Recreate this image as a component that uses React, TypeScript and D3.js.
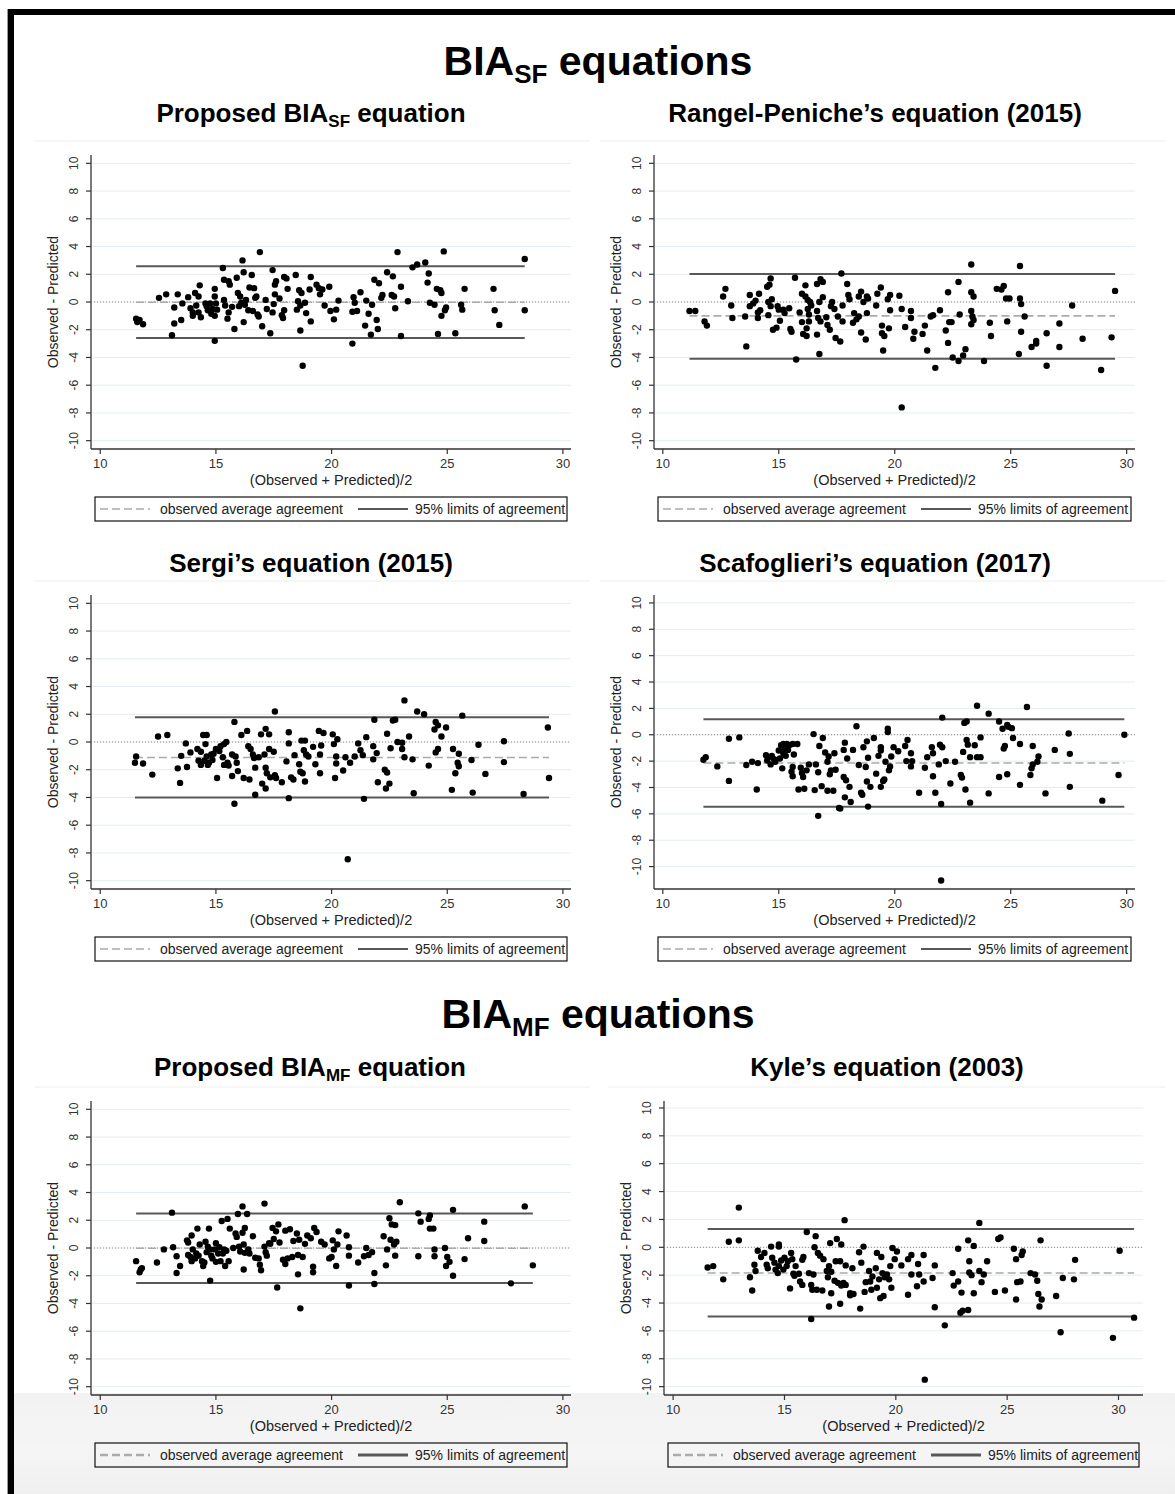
import React from "react";
import * as d3 from "d3";

const FONT = '"Liberation Sans", Arial, Helvetica, sans-serif';

type Pt = [number, number];

// (Observed + Predicted)/2 , Observed - Predicted
const proposedSfPoints: Pt[] = [
  [11.55,-1.2],[11.6,-1.45],[11.7,-1.3],[11.85,-1.6],[12.54,0.3],[12.85,0.55],[13.1,-2.4],[13.2,-0.4],[13.2,-1.55],[13.35,0.55],
  [13.5,-1.3],[13.55,-0.1],[13.8,0.35],[13.9,-0.45],[14.0,-0.75],[14.0,-1.0],[14.1,0.65],[14.15,-0.25],[14.25,0.4],[14.25,-0.75],
  [14.3,1.2],[14.35,-1.1],[14.55,-0.1],[14.6,-0.3],[14.65,-0.6],[14.75,-0.1],[14.8,-0.85],[14.85,-0.5],[14.95,0.95],[14.95,0.4],
  [14.95,-1.0],[14.95,-2.8],[15.0,-0.1],[15.05,-0.55],[15.3,2.45],[15.35,1.6],[15.35,0.15],[15.4,-0.25],[15.5,-1.2],[15.55,-0.75],
  [15.55,1.5],[15.6,1.25],[15.7,-0.35],[15.8,-1.95],[15.9,1.75],[15.95,0.65],[16.0,-0.3],[16.05,0.4],[16.1,-0.05],[16.15,3.0],
  [16.2,2.15],[16.2,-1.45],[16.25,-0.2],[16.3,0.15],[16.4,-0.6],[16.45,1.05],[16.55,1.95],[16.6,-0.65],[16.65,1.0],[16.7,0.3],
  [16.75,0.4],[16.8,-0.9],[16.85,-1.05],[16.9,3.6],[17.0,-1.75],[17.15,0.15],[17.2,-0.5],[17.35,-2.25],[17.45,2.3],[17.45,-0.75],
  [17.5,-0.15],[17.55,0.55],[17.55,1.25],[17.6,1.5],[17.75,0.25],[17.85,-0.95],[17.9,-1.15],[17.95,1.8],[17.95,-0.6],[18.05,1.7],
  [18.1,0.95],[18.45,1.95],[18.5,-0.55],[18.55,0.05],[18.6,0.85],[18.65,-0.25],[18.65,-2.05],[18.7,0.65],[18.75,-4.6],[18.85,-0.05],
  [18.9,-0.8],[19.05,0.9],[19.1,-1.4],[19.1,1.8],[19.35,1.25],[19.45,1.0],[19.5,0.55],[19.6,0.9],[19.7,-0.25],[19.9,1.1],
  [19.95,-0.65],[20.1,-1.25],[20.2,-0.55],[20.3,0.1],[20.9,-3.0],[20.9,-0.7],[20.95,0.35],[21.0,-0.05],[21.1,-0.65],[21.25,0.7],
  [21.45,-1.7],[21.5,0.1],[21.6,-0.85],[21.7,-2.35],[21.75,-0.2],[21.85,1.6],[21.95,-1.3],[22.0,-1.95],[22.05,1.35],[22.15,0.3],
  [22.2,0.5],[22.4,2.15],[22.6,0.5],[22.65,1.85],[22.7,0.4],[22.75,-0.45],[22.85,3.6],[23.0,1.1],[23.0,-2.45],[23.3,0.05],
  [23.5,2.5],[23.7,2.7],[24.05,2.85],[24.15,1.4],[24.2,2.05],[24.25,-0.05],[24.45,-0.2],[24.55,0.95],[24.6,-2.3],[24.7,0.85],
  [24.75,-1.0],[24.75,0.65],[24.85,3.65],[24.9,-0.6],[24.95,-0.4],[25.35,-2.25],[25.6,-0.2],[25.65,-0.55],[25.75,0.95],[27.0,0.95],
  [27.05,-0.6],[27.25,-1.65],[28.35,3.1],[28.35,-0.6],
];

const rangelPoints: Pt[] = [
  [11.15,-0.65],[11.4,-0.65],[11.8,-1.4],[11.9,-1.7],[12.6,0.4],[12.7,0.95],[12.95,-0.25],[13.0,-1.15],[13.55,-1.05],[13.6,-3.2],
  [13.75,0.5],[13.75,-0.3],[13.9,-0.1],[14.0,0.1],[14.1,-1.15],[14.1,-0.75],[14.15,0.6],[14.2,-0.6],[14.5,1.1],[14.55,0.0],
  [14.55,-0.95],[14.6,1.25],[14.65,1.7],[14.65,-0.3],[14.7,0.2],[14.75,-2.0],[14.9,-1.85],[14.95,-0.3],[15.0,-0.55],[15.05,-1.35],
  [15.2,-0.55],[15.25,-0.8],[15.45,-0.45],[15.5,-1.95],[15.55,-2.15],[15.7,1.75],[15.75,-4.15],[15.9,-0.75],[16.0,0.6],[16.0,-1.45],
  [16.05,-2.3],[16.15,0.4],[16.15,1.2],[16.2,-2.45],[16.2,-1.9],[16.25,0.15],[16.25,-0.5],[16.3,-1.4],[16.3,-0.9],[16.35,0.0],
  [16.4,-0.25],[16.65,1.3],[16.65,-0.65],[16.65,-2.35],[16.7,-1.15],[16.75,-3.75],[16.75,0.0],[16.8,1.65],[16.8,-1.4],[16.9,1.45],
  [16.9,0.35],[17.05,-1.1],[17.1,-1.65],[17.2,-2.0],[17.25,-0.3],[17.3,0.0],[17.4,-0.5],[17.45,-2.6],[17.55,-1.05],[17.65,-2.85],
  [17.7,2.05],[17.75,-1.4],[17.75,-0.25],[17.95,1.3],[18.0,0.5],[18.05,0.2],[18.2,-1.5],[18.25,-0.8],[18.35,-1.25],[18.45,0.4],
  [18.45,-1.05],[18.55,0.75],[18.55,-2.2],[18.65,0.0],[18.75,-2.7],[18.8,-0.8],[18.8,0.4],[18.85,0.25],[19.2,-0.25],[19.25,0.6],
  [19.4,1.05],[19.45,-1.7],[19.45,-2.25],[19.5,-3.5],[19.55,-2.45],[19.7,0.2],[19.75,-1.9],[19.8,-0.6],[19.8,0.5],[20.2,0.45],
  [20.3,-7.6],[20.3,-0.5],[20.45,-1.8],[20.7,-0.65],[20.7,-1.15],[20.8,-2.65],[20.85,-2.15],[21.2,-2.3],[21.3,-1.7],[21.4,-3.5],
  [21.55,-1.05],[21.65,-0.95],[21.75,-4.75],[21.95,-0.6],[22.2,-2.05],[22.3,0.7],[22.3,-2.95],[22.35,-1.45],[22.45,-1.45],[22.5,-4.0],
  [22.75,1.45],[22.75,-4.25],[22.8,-0.9],[22.95,-3.85],[23.05,-3.4],[23.3,2.7],[23.3,0.7],[23.3,-0.65],[23.35,-1.05],[23.3,-1.6],
  [23.4,0.4],[23.4,-1.3],[23.85,-4.25],[24.1,-1.5],[24.15,-2.45],[24.4,0.95],[24.6,0.9],[24.7,1.15],[24.8,0.25],[24.85,-1.4],
  [24.95,0.25],[25.35,-3.75],[25.4,2.6],[25.4,0.25],[25.45,-0.15],[25.45,-2.15],[25.6,-1.05],[25.9,-3.25],[26.1,-2.8],[26.1,-3.0],
  [26.55,-2.25],[26.55,-4.6],[27.1,-1.55],[27.1,-3.25],[27.65,-0.25],[28.1,-2.65],[28.9,-4.9],[29.35,-2.55],[29.5,0.8],
];

const sergiPoints: Pt[] = [
  [11.5,-1.5],[11.55,-1.05],[11.85,-1.55],[12.25,-2.35],[12.5,0.4],[12.9,0.5],[13.35,-1.9],[13.45,-2.95],[13.5,-1.0],[13.7,-0.1],
  [13.75,-1.8],[13.9,-0.75],[14.2,-0.5],[14.25,-1.35],[14.35,-1.65],[14.35,-0.7],[14.45,0.5],[14.5,-1.35],[14.55,-0.15],[14.6,-1.05],
  [14.6,0.5],[14.65,-1.65],[14.7,-1.5],[14.8,-0.9],[14.85,-1.3],[14.9,-0.85],[15.0,-0.5],[15.05,-2.6],[15.15,-0.65],[15.2,-0.3],
  [15.3,-1.1],[15.35,-1.65],[15.35,-0.15],[15.45,0.0],[15.5,-1.5],[15.55,-1.7],[15.7,-0.9],[15.7,-2.45],[15.8,1.45],[15.8,-4.45],
  [15.85,-1.05],[15.9,-1.5],[15.95,-2.1],[16.1,0.5],[16.2,-2.6],[16.35,0.8],[16.4,-0.3],[16.45,-2.7],[16.5,-0.5],[16.6,-0.9],
  [16.65,-1.15],[16.7,-3.8],[16.7,-1.85],[16.85,-1.1],[16.95,0.55],[17.0,-3.0],[17.1,-0.9],[17.15,0.95],[17.15,-3.35],[17.15,-1.85],
  [17.2,-2.25],[17.3,0.55],[17.3,-0.5],[17.35,-2.55],[17.5,-0.7],[17.55,2.2],[17.55,-2.4],[17.6,-2.6],[17.85,-2.9],[18.05,-1.4],
  [18.15,0.7],[18.15,-0.1],[18.15,-4.05],[18.25,-2.55],[18.35,-2.7],[18.4,-0.95],[18.6,-1.6],[18.65,-2.15],[18.7,0.1],[18.75,-2.25],
  [18.8,-0.6],[18.85,-2.85],[18.85,0.1],[18.9,-0.9],[19.0,-1.05],[19.2,-0.35],[19.3,-1.6],[19.45,0.8],[19.5,-2.25],[19.5,-0.9],
  [19.55,-0.25],[19.65,0.65],[20.05,0.55],[20.1,-0.15],[20.15,-2.6],[20.2,-1.05],[20.2,-1.55],[20.25,0.2],[20.5,-2.05],[20.6,-1.1],
  [20.7,-8.45],[20.8,-1.5],[21.0,-1.05],[21.15,-0.1],[21.25,-0.6],[21.35,-0.95],[21.4,-4.1],[21.5,0.35],[21.8,-0.3],[21.8,-1.25],
  [21.85,1.6],[21.95,-0.8],[22.0,-2.9],[22.3,-2.0],[22.35,-3.35],[22.4,-2.2],[22.4,0.6],[22.5,-3.0],[22.55,-0.45],[22.65,1.55],
  [22.75,1.6],[22.85,0.0],[23.05,-0.05],[23.05,-0.5],[23.15,3.0],[23.15,-1.1],[23.35,0.4],[23.5,-1.25],[23.55,-3.7],[23.7,2.2],
  [24.0,2.0],[24.2,-1.7],[24.45,0.9],[24.5,1.45],[24.5,-0.75],[24.6,1.2],[24.6,-0.5],[24.75,0.4],[24.95,1.05],[25.25,-0.5],
  [25.2,-3.45],[25.35,-2.25],[25.45,-1.5],[25.5,-1.75],[25.5,-0.85],[25.65,1.9],[26.05,-1.3],[26.1,-3.65],[26.35,-0.2],[26.65,-2.3],
  [27.45,0.05],[27.45,-1.45],[28.3,-3.75],[29.35,1.05],[29.4,-2.6],
];

const scafoglieriPoints: Pt[] = [
  [11.75,-1.9],[11.85,-1.7],[12.35,-2.4],[12.85,-3.5],[12.85,-0.3],[13.3,-0.2],[13.6,-2.3],[13.85,-2.05],[14.05,-4.15],[14.1,-2.15],
  [14.45,-1.55],[14.5,-1.95],[14.55,-1.7],[14.65,-2.25],[14.7,-1.6],[14.8,-1.85],[14.85,-2.05],[15.0,-1.2],[15.05,-1.8],[15.1,-0.8],
  [15.15,-2.55],[15.2,-1.45],[15.2,-0.7],[15.25,-1.05],[15.3,-1.6],[15.35,-0.7],[15.4,-1.15],[15.45,-0.8],[15.55,-2.8],[15.6,-0.7],
  [15.6,-2.45],[15.65,-1.5],[15.6,-3.15],[15.8,-0.7],[15.85,-4.15],[15.95,-2.5],[16.0,-2.9],[16.05,-3.2],[16.1,-4.1],[16.2,-2.7],
  [16.3,-2.25],[16.5,0.05],[16.55,-4.2],[16.6,-2.25],[16.7,-2.85],[16.7,-6.15],[16.75,-0.85],[16.85,-3.9],[16.9,-0.25],[17.0,-1.35],
  [17.1,-4.25],[17.1,-2.05],[17.15,-1.65],[17.2,-3.0],[17.25,-2.7],[17.35,-4.25],[17.4,-1.4],[17.45,-2.65],[17.6,-5.55],[17.65,-5.6],
  [17.8,-1.15],[17.8,-3.2],[17.85,-0.6],[17.85,-4.75],[17.9,-3.45],[17.95,-1.8],[18.05,-3.95],[18.1,-5.1],[18.2,-1.15],[18.35,0.65],
  [18.45,-2.3],[18.55,-4.4],[18.6,-4.55],[18.65,-0.95],[18.75,-2.45],[18.8,-3.55],[18.8,-0.5],[18.85,-5.45],[18.85,-1.75],[18.95,-3.95],
  [19.1,-0.25],[19.2,-2.95],[19.3,-1.6],[19.4,-1.2],[19.4,-3.95],[19.4,-0.95],[19.5,-3.5],[19.55,-3.4],[19.6,-2.05],[19.7,0.2],
  [19.7,0.45],[19.75,-2.7],[19.8,-2.4],[19.85,-1.65],[19.95,-0.95],[20.15,-1.25],[20.45,-0.85],[20.55,-0.4],[20.5,-2.0],[20.7,-2.4],
  [20.7,-1.4],[20.75,-2.0],[21.05,-4.4],[21.3,-2.5],[21.4,-1.7],[21.6,-0.95],[21.65,-1.4],[21.65,-3.15],[21.75,-4.4],[21.9,-2.25],
  [21.95,-0.75],[22.0,-5.25],[22.05,1.3],[22.05,-0.95],[22.0,-11.05],[22.2,-2.0],[22.4,-3.7],[22.6,-2.05],[22.85,-3.05],[22.9,-3.25],
  [22.95,-1.3],[23.0,0.9],[23.05,-4.15],[23.1,1.0],[23.1,-0.4],[23.15,-0.75],[23.25,-1.7],[23.25,-5.15],[23.45,-0.8],[23.55,2.2],
  [23.55,-1.7],[23.7,-1.7],[23.7,-0.2],[24.05,1.6],[24.05,-4.45],[24.5,1.0],[24.5,-3.2],[24.65,0.45],[24.7,-1.05],[24.75,-0.85],
  [24.85,0.75],[24.85,-3.0],[24.9,0.6],[25.05,0.5],[25.1,-0.25],[25.4,-0.7],[25.4,-3.8],[25.7,2.1],[25.85,-3.05],[25.9,-2.55],
  [25.95,-0.85],[25.95,-2.25],[26.15,-2.05],[26.2,-1.65],[26.5,-4.45],[26.9,-1.15],[27.5,0.1],[27.55,-1.45],[27.55,-3.95],[28.95,-5.0],
  [29.65,-3.05],[29.9,0.0],
];

const proposedMfPoints: Pt[] = [
  [11.55,-0.95],[11.7,-1.75],[11.75,-1.55],[11.8,-1.45],[12.45,-1.05],[12.75,-0.1],[13.1,2.55],[13.15,0.05],[13.3,-1.8],[13.3,-0.6],
  [13.45,-1.3],[13.75,0.55],[13.8,0.4],[13.8,-0.5],[13.9,-0.65],[13.95,0.9],[13.95,-0.95],[14.0,-0.1],[14.1,-0.75],[14.15,-0.4],
  [14.2,1.4],[14.25,-0.55],[14.3,0.25],[14.4,-0.95],[14.45,-1.3],[14.5,-1.05],[14.55,0.45],[14.6,-0.3],[14.65,0.1],[14.7,1.4],
  [14.75,-2.35],[14.75,-0.1],[14.8,-0.55],[14.85,-0.75],[14.95,-0.1],[15.0,-1.0],[15.0,0.35],[15.1,-0.4],[15.15,0.05],[15.2,-0.95],
  [15.25,1.95],[15.3,-0.4],[15.35,-0.1],[15.4,-1.3],[15.45,-0.2],[15.5,2.1],[15.55,-0.95],[15.6,1.4],[15.75,0.0],[15.85,1.05],
  [15.9,0.8],[15.95,2.45],[16.0,0.1],[16.05,-0.25],[16.15,3.0],[16.15,1.1],[16.2,0.25],[16.2,-1.55],[16.25,1.45],[16.25,-0.35],
  [16.35,2.45],[16.4,-0.1],[16.45,-0.4],[16.6,0.85],[16.7,-0.7],[16.85,-0.75],[16.9,-1.2],[16.95,-1.6],[17.1,3.2],[17.1,0.1],
  [17.15,-0.3],[17.2,-0.55],[17.3,0.35],[17.35,0.3],[17.45,1.45],[17.5,0.65],[17.6,1.2],[17.65,-2.85],[17.7,1.7],[17.75,0.4],
  [17.9,-0.85],[18.0,1.25],[18.0,-1.15],[18.1,-0.75],[18.2,1.35],[18.3,-0.65],[18.35,0.5],[18.5,1.05],[18.55,-1.9],[18.55,-0.5],
  [18.6,0.6],[18.65,-4.35],[18.75,-0.65],[18.85,0.3],[18.95,0.9],[19.1,0.7],[19.2,-1.35],[19.2,-1.75],[19.25,1.45],[19.35,1.15],
  [19.55,0.45],[19.7,0.25],[19.9,-0.75],[20.0,-0.65],[20.05,0.55],[20.1,-0.1],[20.2,-1.3],[20.25,0.25],[20.3,1.2],[20.65,0.9],
  [20.75,-2.7],[20.75,-0.55],[20.75,0.05],[21.15,-1.05],[21.4,-0.6],[21.5,0.0],[21.6,-0.5],[21.75,-0.3],[21.85,-1.8],[21.85,-2.6],
  [22.25,0.85],[22.35,-1.25],[22.4,-0.1],[22.5,2.15],[22.55,0.6],[22.6,1.7],[22.7,0.25],[22.75,1.65],[22.75,-0.55],[22.8,0.45],
  [22.95,3.3],[23.75,2.5],[23.75,-0.6],[23.85,1.9],[24.2,2.1],[24.25,2.35],[24.25,1.4],[24.4,1.4],[24.45,-0.1],[24.45,-0.6],
  [24.9,0.0],[25.0,-0.65],[24.95,-1.3],[25.1,-1.0],[25.25,2.75],[25.25,-2.0],[25.75,-0.8],[25.9,0.7],[26.6,1.9],[26.6,0.5],
  [27.75,-2.55],[28.35,3.0],[28.7,-1.25],
];

const kylePoints: Pt[] = [
  [11.55,-1.45],[11.8,-1.35],[12.25,-2.3],[12.5,0.4],[12.95,2.85],[12.95,0.5],[13.45,-2.15],[13.55,-3.1],[13.65,-1.25],[13.7,-1.7],
  [13.8,-0.25],[13.95,-0.7],[14.1,-0.4],[14.2,-1.25],[14.25,-1.5],[14.4,0.05],[14.45,-0.75],[14.55,-1.1],[14.6,-1.6],[14.7,-1.85],
  [14.75,0.05],[14.75,0.2],[14.75,-1.35],[14.85,-0.95],[14.95,-1.6],[15.0,-0.75],[15.1,-1.35],[15.15,-1.0],[15.25,-2.95],[15.3,-0.4],
  [15.35,-0.85],[15.4,-1.9],[15.45,-2.05],[15.5,-1.35],[15.65,-1.9],[15.7,-2.45],[15.8,-0.9],[15.85,-0.7],[15.8,-2.7],[16.0,1.1],
  [16.1,-1.85],[16.2,-5.15],[16.2,-2.7],[16.25,-3.05],[16.3,-1.95],[16.35,0.0],[16.4,0.8],[16.45,-3.05],[16.5,-0.4],[16.6,-0.6],
  [16.7,-3.1],[16.75,-0.85],[16.9,-1.7],[16.95,-2.15],[17.0,-4.25],[17.0,-1.35],[17.05,0.3],[17.1,-1.75],[17.1,-3.3],[17.25,-2.4],
  [17.3,-1.0],[17.35,0.6],[17.4,-2.55],[17.5,-1.0],[17.5,-4.05],[17.55,0.2],[17.55,-2.75],[17.65,-2.55],[17.7,1.95],[17.75,-1.3],
  [17.75,-2.7],[17.95,-3.3],[17.95,-3.45],[18.05,-1.5],[18.1,-3.35],[18.35,-0.35],[18.4,-4.4],[18.45,-1.1],[18.55,0.05],[18.6,-3.2],
  [18.65,-2.5],[18.8,-1.7],[18.85,-2.45],[18.9,-3.05],[18.95,-2.1],[19.1,-1.5],[19.15,-2.9],[19.15,-0.4],[19.25,-2.3],[19.3,-3.65],
  [19.35,-0.7],[19.4,-1.85],[19.45,-3.5],[19.5,-2.15],[19.6,-1.95],[19.7,-2.3],[19.75,-1.35],[19.8,-2.9],[19.85,-0.05],[19.95,-0.85],
  [20.05,-0.3],[20.25,-1.3],[20.55,-3.4],[20.55,-0.85],[20.7,-0.55],[20.7,-1.95],[20.95,-2.8],[21.0,-1.2],[21.05,-1.95],[21.25,-0.55],
  [21.25,-2.45],[21.3,-9.5],[21.65,-2.2],[21.75,-1.3],[21.75,-4.3],[22.2,-5.6],[22.55,-1.85],[22.6,-2.75],[22.8,-0.1],[22.8,-2.45],
  [22.9,-4.7],[22.95,-3.25],[23.0,-4.55],[23.25,-4.5],[23.25,0.5],[23.3,-1.0],[23.3,-1.8],[23.4,-2.0],[23.5,0.1],[23.5,-3.3],
  [23.75,1.75],[23.75,-1.7],[23.85,-2.5],[23.95,-1.95],[24.1,-1.0],[24.45,-3.2],[24.6,0.6],[24.7,0.7],[24.9,-3.1],[25.3,-0.1],
  [25.4,-0.85],[25.4,-3.75],[25.45,-2.5],[25.6,-2.45],[25.65,-0.55],[25.7,-0.3],[26.05,-1.85],[26.25,-1.95],[26.35,-2.4],[26.4,-3.35],
  [26.45,-4.25],[26.55,-3.75],[26.5,0.5],[27.2,-3.5],[27.4,-6.1],[27.5,-2.2],[28.0,-2.3],[28.05,-0.9],[29.75,-6.5],[30.05,-0.25],
  [30.7,-5.05],
];

const allPoints = [proposedSfPoints, rangelPoints, sergiPoints, scafoglieriPoints, proposedMfPoints, kylePoints];

// title segments: [text, isSubscript]
const panelTitles: [string, boolean][][] = [
  [["Proposed BIA", false], ["SF", true], [" equation", false]],
  [["Rangel-Peniche\u2019s equation (2015)", false]],
  [["Sergi\u2019s equation (2015)", false]],
  [["Scafoglieri\u2019s equation (2017)", false]],
  [["Proposed BIA", false], ["MF", true], [" equation", false]],
  [["Kyle\u2019s equation (2003)", false]],
];

const meanDiffs = [-0.02, -1.0, -1.12, -2.14, -0.02, -1.84];
const lowerLimits = [-2.6, -4.09, -4.0, -5.47, -2.52, -4.96];
const upperLimits = [2.57, 2.02, 1.79, 1.18, 2.48, 1.32];

const xTicks = [10, 15, 20, 25, 30];
const yTicks = [-10, -8, -6, -4, -2, 0, 2, 4, 6, 8, 10];

const xLabel = "(Observed + Predicted)/2";
const yLabel = "Observed - Predicted";
const legendLabels = ["observed average agreement", "95% limits of agreement"];

// layout of the six panels
const layout = [
  { left: 91, right: 571, top: 155, bottom: 449, titleX: 311, titleY: 122, sepL: 35, sepR: 590, xDomain: [9.6, 30.35], yDomain: [-10.6, 10.6] },
  { left: 654, right: 1135, top: 155, bottom: 449, titleX: 875, titleY: 122, sepL: 600, sepR: 1165, xDomain: [9.62, 30.36], yDomain: [-10.6, 10.6] },
  { left: 91, right: 571, top: 595, bottom: 889, titleX: 311, titleY: 572, sepL: 35, sepR: 590, xDomain: [9.6, 30.35], yDomain: [-10.6, 10.6] },
  { left: 654, right: 1135, top: 595, bottom: 889, titleX: 875, titleY: 572, sepL: 600, sepR: 1165, xDomain: [9.62, 30.36], yDomain: [-11.7, 10.6] },
  { left: 91, right: 571, top: 1101, bottom: 1395, titleX: 310, titleY: 1076, sepL: 35, sepR: 590, xDomain: [9.6, 30.35], yDomain: [-10.6, 10.6] },
  { left: 664, right: 1143, top: 1101, bottom: 1395, titleX: 887, titleY: 1076, sepL: 608, sepR: 1165, xDomain: [9.59, 31.1], yDomain: [-10.6, 10.5] },
];

function Panel({ i }: { i: number }) {
  const L = layout[i];
  const pts = allPoints[i];
  const x = d3.scaleLinear().domain(L.xDomain).range([L.left, L.right]);
  const y = d3.scaleLinear().domain(L.yDomain).range([L.bottom, L.top]);
  const [xMin, xMax] = d3.extent(pts, (d) => d[0]) as [number, number];
  const ticksY = yTicks.filter((t) => t >= L.yDomain[0] && t <= L.yDomain[1]);
  const midY = (L.top + L.bottom) / 2;
  const legX = L.left + 4;
  const legW = L.right - L.left - 8;
  const legY = L.bottom + 48;
  const sampleW = i >= 4 ? 3 : 2;

  return (
    <g>
      <line x1={L.sepL} x2={L.sepR} y1={L.top - 14} y2={L.top - 14} stroke="#eeeeee" strokeWidth={1} />
      <text x={L.titleX} y={L.titleY} textAnchor="middle" fontSize={26} fontWeight="bold" fill="#000">
        {panelTitles[i].map(([s, sub], k) => (
          <tspan key={k} fontSize={sub ? 17 : 26} dy={sub ? 5 : k > 0 ? -5 : 0}>{s}</tspan>
        ))}
      </text>

      {/* gridlines */}
      {ticksY.map((t) => (
        <line key={t} x1={L.left + 1} x2={L.right} y1={y(t)} y2={y(t)} stroke="#e5edf0" strokeWidth={1} />
      ))}

      {/* zero reference */}
      <line x1={L.left + 3} x2={L.right} y1={y(0)} y2={y(0)} stroke="#8c8c8c" strokeWidth={1} strokeDasharray="1 2" />
      {/* mean difference */}
      <line x1={x(xMin)} x2={x(xMax)} y1={y(meanDiffs[i])} y2={y(meanDiffs[i])} stroke="#ababab" strokeWidth={1.6} strokeDasharray="8 4" />
      {/* limits of agreement */}
      <line x1={x(xMin)} x2={x(xMax)} y1={y(upperLimits[i])} y2={y(upperLimits[i])} stroke="#585858" strokeWidth={2} />
      <line x1={x(xMin)} x2={x(xMax)} y1={y(lowerLimits[i])} y2={y(lowerLimits[i])} stroke="#585858" strokeWidth={2} />

      {pts.map((d, k) => (
        <circle key={k} cx={x(d[0])} cy={y(d[1])} r={3.2} fill="#000" />
      ))}

      {/* axes */}
      <line x1={L.left} x2={L.left} y1={L.top} y2={L.bottom} stroke="#333" strokeWidth={1.3} />
      <line x1={L.left} x2={L.right} y1={L.bottom} y2={L.bottom} stroke="#333" strokeWidth={1.3} />
      {ticksY.map((t) => (
        <g key={t}>
          <line x1={L.left - 5} x2={L.left} y1={y(t)} y2={y(t)} stroke="#333" strokeWidth={1.2} />
          <text transform={`translate(${L.left - 13},${y(t)}) rotate(-90)`} textAnchor="middle" fontSize={12} fill="#333">
            {t}
          </text>
        </g>
      ))}
      {xTicks.map((t) => (
        <g key={t}>
          <line x1={x(t)} x2={x(t)} y1={L.bottom} y2={L.bottom + 5} stroke="#333" strokeWidth={1.2} />
          <text x={x(t)} y={L.bottom + 19} textAnchor="middle" fontSize={13} fill="#333">
            {t}
          </text>
        </g>
      ))}
      <text transform={`translate(${L.left - 33},${midY}) rotate(-90)`} textAnchor="middle" fontSize={14} fill="#222">
        {yLabel}
      </text>
      <text x={(L.left + L.right) / 2} y={L.bottom + 36} textAnchor="middle" fontSize={14.5} fill="#222">
        {xLabel}
      </text>

      {/* legend */}
      <rect x={legX} y={legY} width={legW} height={24} fill="none" stroke="#111" strokeWidth={1.2} />
      <line x1={legX + 5} x2={legX + 55} y1={legY + 12} y2={legY + 12} stroke="#ababab" strokeWidth={sampleW - 0.4} strokeDasharray="8 4" />
      <text x={legX + 65} y={legY + 17} fontSize={14} fill="#222">{legendLabels[0]}</text>
      <line x1={legX + 263} x2={legX + 313} y1={legY + 12} y2={legY + 12} stroke="#585858" strokeWidth={sampleW} />
      <text x={legX + 320} y={legY + 17} fontSize={14} fill="#222">{legendLabels[1]}</text>
    </g>
  );
}

export default function App() {
  return (
    <svg
      width={1175}
      height={1494}
      style={{ position: "absolute", left: 0, top: 0, background: "#fff", fontFamily: FONT }}
    >
      <defs>
        <linearGradient id="band" x1="0" x2="0" y1="0" y2="1">
          <stop offset="0" stopColor="#f2f2f2" />
          <stop offset="0.6" stopColor="#f5f5f5" />
          <stop offset="1" stopColor="#efefef" />
        </linearGradient>
      </defs>
      <rect x={0} y={0} width={1175} height={1494} fill="#fff" />
      <rect x={14} y={1393} width={1161} height={101} fill="url(#band)" />

      {/* frame */}
      <rect x={7} y={9} width={1} height={1485} fill="#999" />
      <rect x={8} y={9} width={6} height={1485} fill="#000" />
      <rect x={8} y={9} width={1167} height={6} fill="#000" />

      <text x={598} y={75} textAnchor="middle" fontSize={41} fontWeight="bold" fill="#000">
        <tspan>BIA</tspan>
        <tspan fontSize={26} dy={8}>SF</tspan>
        <tspan dy={-8}> equations</tspan>
      </text>
      <text x={598} y={1028} textAnchor="middle" fontSize={41} fontWeight="bold" fill="#000">
        <tspan>BIA</tspan>
        <tspan fontSize={26} dy={8}>MF</tspan>
        <tspan dy={-8}> equations</tspan>
      </text>

      {layout.map((_, i) => (
        <Panel key={i} i={i} />
      ))}
    </svg>
  );
}
